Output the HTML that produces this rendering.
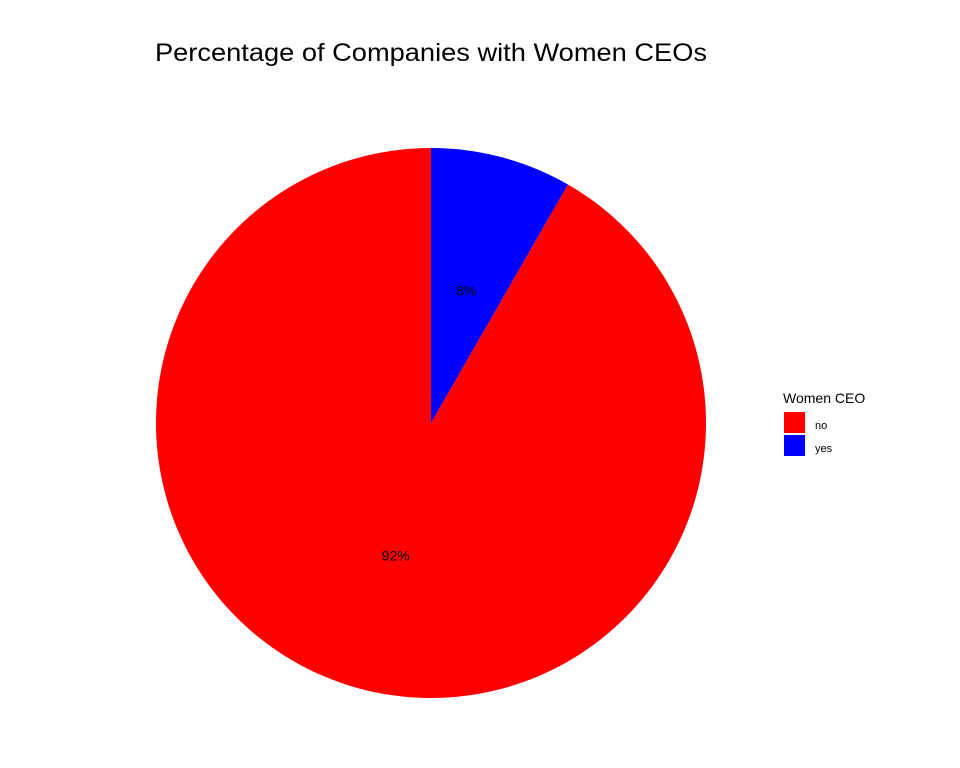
<!DOCTYPE html>
<html><head><meta charset="utf-8"><style>
body{margin:0;background:#fff;}
svg{display:block;font-family:"Liberation Sans",sans-serif;}
</style></head><body>
<svg id="chart" width="960" height="768">
<text x="155" y="61" font-size="25" textLength="552" lengthAdjust="spacingAndGlyphs" fill="#000">Percentage of Companies with Women CEOs</text>
<g id="slices"></g>
<g id="labels"></g>
<text x="783" y="403" font-size="14" fill="#000">Women CEO</text>
<g id="legend"></g>
</svg>
<script>
const categories = ["yes", "no"];
const values = [8.3, 91.7];
const colors = {yes: "#0000FF", no: "#FF0000"};
const legendOrder = ["no", "yes"];

const cx = 431, cy = 423, R = 275, labelR = 137;
const total = values.reduce((a, b) => a + b, 0);
const ns = "http://www.w3.org/2000/svg";
function pt(frac, r) { const a = frac * 2 * Math.PI; return [cx + r * Math.sin(a), cy - r * Math.cos(a)]; }
let cum = 0;
const sg = document.getElementById('slices'), lg = document.getElementById('labels');
categories.forEach((c, i) => {
  const f0 = cum / total, f1 = (cum + values[i]) / total;
  cum += values[i];
  const [x0, y0] = pt(f0, R), [x1, y1] = pt(f1, R);
  const large = (f1 - f0) > 0.5 ? 1 : 0;
  const p = document.createElementNS(ns, 'path');
  p.setAttribute('d', `M${cx},${cy}L${x0},${y0}A${R},${R} 0 ${large} 1 ${x1},${y1}Z`);
  p.setAttribute('fill', colors[c]);
  
  
  sg.appendChild(p);
  const [lx, ly] = pt((f0 + f1) / 2, labelR);
  const t = document.createElementNS(ns, 'text');
  t.setAttribute('x', lx); t.setAttribute('y', ly + 5);
  t.setAttribute('text-anchor', 'middle'); t.setAttribute('font-size', '14');
  t.textContent = Math.round(values[i] / total * 100) + '%';
  
  
  lg.appendChild(t);
});
const leg = document.getElementById('legend');
legendOrder.forEach((c, i) => {
  const r = document.createElementNS(ns, 'rect');
  r.setAttribute('x', 784); r.setAttribute('y', 412 + i * 23);
  r.setAttribute('width', 21); r.setAttribute('height', 21);
  r.setAttribute('fill', colors[c]);
  
  
  leg.appendChild(r);
  const t = document.createElementNS(ns, 'text');
  t.setAttribute('x', 815); t.setAttribute('y', 429 + i * 23);
  t.setAttribute('font-size', '11');
  t.textContent = c;
  
  
  leg.appendChild(t);
});
</script>
</body></html>
